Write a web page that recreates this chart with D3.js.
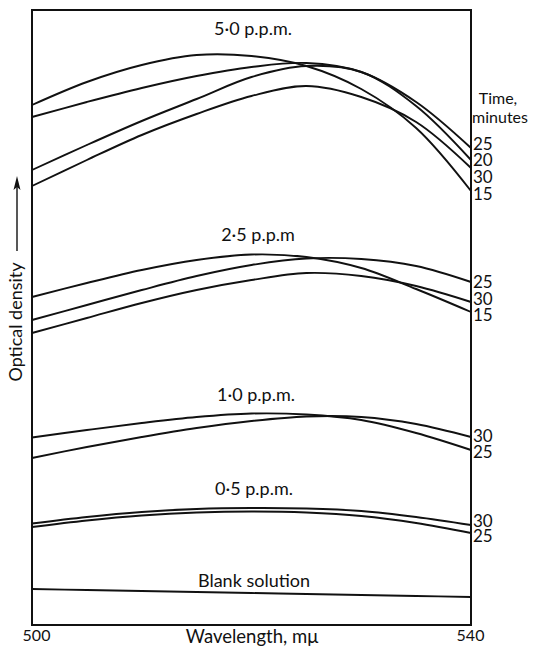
<!DOCTYPE html>
<html>
<head>
<meta charset="utf-8">
<script src="https://cdn.jsdelivr.net/npm/d3@7"></script>
<style>
  body { margin: 0; background: #fff; }
  text { font-family: Lato, "Open Sans", sans-serif; fill: #111; }
</style>
</head>
<body>
<svg id="chart" width="541" height="647"></svg>
<script>
// Wavelength readings, mμ
const wavelengths = [500, 505, 510, 515, 520, 525, 530, 535, 540];
const xTicks = [500, 540];

// Optical density (arbitrary zero) for each concentration and development time
const ppm5_t15 = [1.040, 1.086, 1.120, 1.140, 1.138, 1.118, 1.072, 0.994, 0.868];
const ppm5_t25 = [1.016, 1.046, 1.074, 1.098, 1.116, 1.124, 1.106, 1.046, 0.954];
const ppm5_t20 = [0.910, 0.960, 1.008, 1.052, 1.096, 1.118, 1.106, 1.038, 0.930];
const ppm5_t30 = [0.878, 0.930, 0.980, 1.022, 1.058, 1.078, 1.056, 1.006, 0.914];

const ppm25_t15 = [0.656, 0.684, 0.710, 0.730, 0.741, 0.736, 0.714, 0.672, 0.626];
const ppm25_t25 = [0.610, 0.640, 0.670, 0.698, 0.720, 0.733, 0.732, 0.718, 0.686];
const ppm25_t30 = [0.584, 0.614, 0.644, 0.670, 0.690, 0.704, 0.698, 0.678, 0.646];

const ppm10_t25 = [0.375, 0.390, 0.404, 0.416, 0.423, 0.421, 0.410, 0.384, 0.350];
const ppm10_t30 = [0.334, 0.356, 0.376, 0.394, 0.408, 0.417, 0.416, 0.402, 0.376];

const ppm05_t30 = [0.203, 0.216, 0.226, 0.232, 0.234, 0.233, 0.228, 0.216, 0.200];
const ppm05_t25 = [0.196, 0.209, 0.219, 0.225, 0.227, 0.225, 0.218, 0.204, 0.184];

const blank = [0.072, 0.070, 0.068, 0.066, 0.064, 0.062, 0.060, 0.058, 0.056];

const groups = [
  { title: "5·0 p.p.m.", series: [
      { time: "15", values: ppm5_t15 }, { time: "25", values: ppm5_t25 },
      { time: "20", values: ppm5_t20 }, { time: "30", values: ppm5_t30 } ] },
  { title: "2·5 p.p.m", series: [
      { time: "15", values: ppm25_t15 }, { time: "25", values: ppm25_t25 },
      { time: "30", values: ppm25_t30 } ] },
  { title: "1·0 p.p.m.", series: [
      { time: "25", values: ppm10_t25 }, { time: "30", values: ppm10_t30 } ] },
  { title: "0·5 p.p.m.", series: [
      { time: "30", values: ppm05_t30 }, { time: "25", values: ppm05_t25 } ] },
  { title: "Blank solution", series: [ { time: "", values: blank } ] }
];

const svg = d3.select("#chart");
const frame = { left: 32, right: 471, top: 10, bottom: 625 };

const x = d3.scaleLinear().domain([500, 540]).range([frame.left, frame.right]);
const y = d3.scaleLinear().domain([0, 1.23]).range([frame.bottom, frame.top]);

const line = d3.line()
  .x((d, i) => x(wavelengths[i]))
  .y(d => y(d))
  .curve(d3.curveCatmullRom.alpha(0.5));

// frame
svg.append("rect")
  .attr("x", frame.left).attr("y", frame.top)
  .attr("width", frame.right - frame.left).attr("height", frame.bottom - frame.top)
  .attr("fill", "none").attr("stroke", "#111").attr("stroke-width", 2);

// wavelength axis: end labels only
const xAxis = svg.append("g")
  .attr("transform", `translate(0,${frame.bottom})`)
  .call(d3.axisBottom(x).tickValues(xTicks).tickSize(0).tickPadding(5).tickFormat(d3.format("d")));
xAxis.select(".domain").remove();
xAxis.selectAll("text")
  .attr("font-size", 16).attr("dx", d => d === 500 ? 4 : -1)
  .style("font-family", "Lato, sans-serif").attr("fill", "#111");

svg.append("text")
  .attr("x", 252).attr("y", 643)
  .attr("text-anchor", "middle").attr("font-size", 18.5)
  .text("Wavelength, mμ");

// optical density label with upward arrow
svg.append("text")
  .attr("transform", "translate(22,322) rotate(-90)")
  .attr("text-anchor", "middle").attr("font-size", 18)
  .text("Optical density");
svg.append("line")
  .attr("x1", 17).attr("x2", 17).attr("y1", 251).attr("y2", 182)
  .attr("stroke", "#111").attr("stroke-width", 1.4);
svg.append("path")
  .attr("d", "M17,176 L13.5,190 L17,187 L20.5,190 Z")
  .attr("fill", "#111");

// curves
const plot = svg.append("g");
groups.forEach(g => {
  g.series.forEach(s => {
    plot.append("path")
      .attr("d", line(s.values))
      .attr("fill", "none").attr("stroke", "#111").attr("stroke-width", 1.9);
  });
});

// group titles
const titleLayout = [
  { x: 253, y: 35 }, { x: 258, y: 241 }, { x: 256, y: 401 },
  { x: 254, y: 495 }, { x: 254, y: 587 }
];
groups.forEach((g, i) => {
  svg.append("text")
    .attr("x", titleLayout[i].x).attr("y", titleLayout[i].y)
    .attr("text-anchor", "middle").attr("font-size", 18)
    .text(g.title);
});

// time heading and labels at the right edge, stacked next to the curve ends
const timeHead = svg.append("text").attr("text-anchor", "middle").attr("font-size", 16);
timeHead.append("tspan").attr("x", 498).attr("y", 104).text("Time,");
timeHead.append("tspan").attr("x", 500).attr("y", 123).text("minutes");

const labelStacks = [
  { order: ["25", "20", "30", "15"], baselines: [150, 166, 183, 200] },
  { order: ["25", "30", "15"], baselines: [288, 305, 321] },
  { order: ["30", "25"], baselines: [442, 458] },
  { order: ["30", "25"], baselines: [527, 542] }
];
labelStacks.forEach(st => {
  const t = svg.append("text").attr("font-size", 17);
  st.order.forEach((lab, i) => {
    t.append("tspan").attr("x", 473).attr("y", st.baselines[i]).text(lab);
  });
});
</script>
</body>
</html>
